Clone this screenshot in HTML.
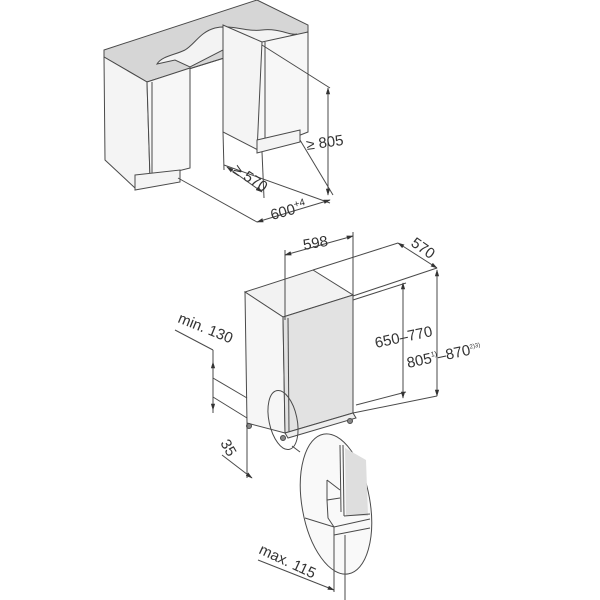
<!DOCTYPE html>
<html><head><meta charset="utf-8"><style>
html,body{margin:0;padding:0;background:#fff}
svg{display:block}
text{font-family:"Liberation Sans",sans-serif;fill:#333;font-size:15px}
</style></head><body>
<svg width="600" height="600" viewBox="0 0 600 600" xmlns="http://www.w3.org/2000/svg">
<defs>
<marker id="a" viewBox="0 0 10 10" refX="9" refY="5" markerWidth="7" markerHeight="7" orient="auto-start-reverse"><path d="M0,2 L10,5 L0,8 z" fill="#333"/></marker>
</defs>
<g stroke="#4a4a4a" stroke-width="1" fill="none">
<!-- TOP FIGURE -->
<polygon points="104,50 257,0 308,25 308,32 147,82 104,57" fill="#d6d6d6"/>
<polyline points="104,57 147,82 308,32" />
<path d="M157,64 C162,56 175,55 185,50 C195,44 200,32 215,28 C232,24 245,32 262,30 C280,28 290,36 297,34 L262,44 L223,28 L223,50 L190,67 L175,60 Z" fill="#f3f3f3"/>
<!-- left cabinet -->
<polygon points="104,57 147,82 150,178 135,188 105,160" fill="#f4f4f4"/>
<polygon points="147,82 190,68 190,168 150,178" fill="#f7f7f7"/>
<line x1="152" y1="82" x2="152" y2="178"/>
<polygon points="135,175 180,170 180,182 135,190" fill="#f4f4f4"/>
<!-- right cabinet -->
<polygon points="223,25 262,42 262,152 223,132" fill="#f4f4f4"/>
<polygon points="262,42 308,32 308,132 257,152" fill="#f7f7f7"/>
<line x1="265" y1="42" x2="265" y2="150"/>
<polygon points="257,140 300,130 300,142 257,153" fill="#f4f4f4"/>
<!-- dimensions top -->
<line x1="262" y1="45" x2="330" y2="88"/>
<line x1="300" y1="140" x2="333" y2="195"/>
<line x1="178" y1="178" x2="257" y2="222"/>
<line x1="223" y1="132" x2="224" y2="170"/>
<line x1="262" y1="152" x2="264" y2="198"/>
<line x1="224" y1="165" x2="330" y2="203"/>
<line x1="328" y1="88" x2="328" y2="195" marker-start="url(#a)" marker-end="url(#a)"/>
<line x1="227" y1="167" x2="262" y2="192" marker-start="url(#a)" marker-end="url(#a)"/>
<line x1="257" y1="222" x2="330" y2="200" marker-start="url(#a)" marker-end="url(#a)"/>
<!-- BOTTOM FIGURE -->
<polygon points="245,292 313,270 353,295 283,317" fill="#f2f2f2"/>
<polygon points="245,292 283,317 285,433 247,423" fill="#f6f6f6"/>
<polygon points="283,317 353,295 353,413 285,433" fill="#e2e2e2"/>
<line x1="288" y1="318" x2="289" y2="432"/>
<polygon points="285,433 353,413 356,418 288,438" fill="#eee"/>
<circle cx="283" cy="438" r="2.5" fill="#888"/>
<circle cx="350" cy="421" r="2.5" fill="#888"/>
<circle cx="249" cy="426" r="2.5" fill="#888"/>
<!-- 598 -->
<line x1="285" y1="250" x2="285" y2="320"/>
<line x1="353" y1="232" x2="353" y2="296"/>
<line x1="285" y1="255" x2="353" y2="236" marker-start="url(#a)" marker-end="url(#a)"/>
<!-- 570 -->
<line x1="313" y1="270" x2="398" y2="243"/>
<line x1="353" y1="296" x2="437" y2="268"/>
<line x1="398" y1="243" x2="437" y2="268" marker-start="url(#a)" marker-end="url(#a)"/>
<!-- heights -->
<line x1="353" y1="413" x2="437" y2="396"/>
<line x1="356" y1="405" x2="406" y2="392"/>
<line x1="353" y1="300" x2="406" y2="283"/>
<line x1="403" y1="283" x2="403" y2="398" marker-start="url(#a)" marker-end="url(#a)"/>
<line x1="437" y1="270" x2="437" y2="396" marker-start="url(#a)" marker-end="url(#a)"/>
<!-- min 130 -->
<line x1="175" y1="330" x2="213" y2="350"/>
<line x1="213" y1="350" x2="213" y2="413"/>
<line x1="213" y1="378" x2="247" y2="398"/>
<line x1="213" y1="397" x2="247" y2="418"/>
<line x1="213" y1="378" x2="213" y2="362" marker-end="url(#a)"/>
<line x1="213" y1="397" x2="213" y2="410" marker-end="url(#a)"/>
<!-- 35 -->
<line x1="247" y1="423" x2="247" y2="478"/>
<line x1="222" y1="455" x2="252" y2="478" marker-end="url(#a)"/>
<!-- ellipses -->
<ellipse cx="283" cy="420" rx="14" ry="30" transform="rotate(-12 283 420)"/>
<line x1="292" y1="446" x2="300" y2="452"/>
<ellipse cx="336" cy="504" rx="34" ry="71" transform="rotate(-10 336 504)" fill="#f9f9f9"/>
<!-- detail inside -->
<polygon points="345,448 366,460 368,516 346,516" fill="#dedede" stroke="none"/>
<line x1="340" y1="445" x2="341" y2="512"/>
<line x1="343" y1="445" x2="344" y2="516"/>
<line x1="344" y1="516" x2="370" y2="514"/>
<path d="M327,480 L340,490 M327,480 L327,500 L340,498 M327,500 L328,518 L334,527" />
<path d="M305,518 L334,527 L370,519" />
<path d="M334,527 L334,535 L370,528" />
<line x1="334" y1="535" x2="334" y2="592"/>
<line x1="345" y1="535" x2="345" y2="600"/>
<line x1="258" y1="560" x2="334" y2="590" marker-end="url(#a)"/>
</g>
<text transform="translate(307,150) rotate(-8)" font-size="16">≥ 805</text>
<text transform="translate(232,172) rotate(33)" font-size="15">≥ 570</text>
<text transform="translate(272,220) rotate(-15)" font-size="15">600<tspan font-size="10" dy="-6">+4</tspan></text>
<text transform="translate(304,250) rotate(-10)" font-size="15">598</text>
<text transform="translate(410,245) rotate(35)" font-size="14">570</text>
<text transform="translate(376,348) rotate(-12)" font-size="15">650–770</text>
<text transform="translate(408,368) rotate(-12)" font-size="15">805<tspan font-size="7" dy="-6">1)</tspan><tspan dy="6">–870</tspan><tspan font-size="6" dy="-6">2)3)</tspan></text>
<text transform="translate(177,322) rotate(22)" font-size="14">min. 130</text>
<text transform="translate(220,443) rotate(60)" font-size="14">35</text>
<text transform="translate(258,553) rotate(25)" font-size="14">max. 115</text>
</svg>
</body></html>
